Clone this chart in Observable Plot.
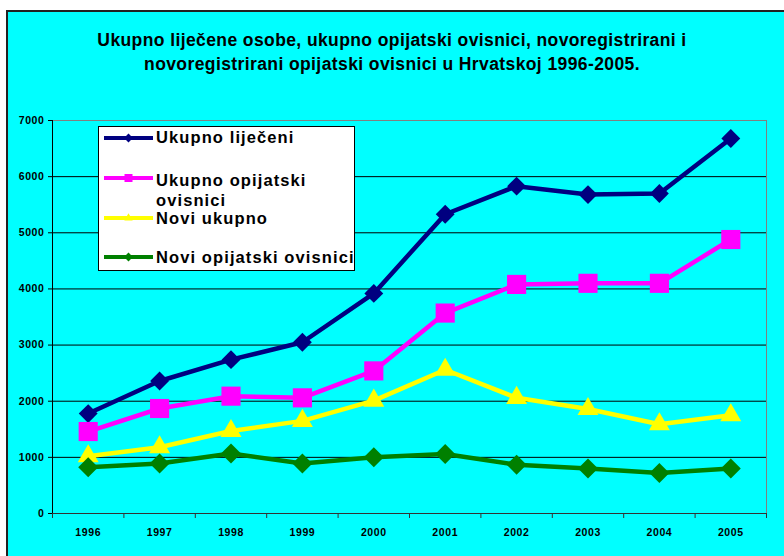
<!DOCTYPE html>
<html>
<head>
<meta charset="utf-8">
<script src="https://cdn.jsdelivr.net/npm/d3@7"></script>
<script src="https://cdn.jsdelivr.net/npm/@observablehq/plot@0.6"></script>
<style>
  html, body { margin: 0; padding: 0; background: #fff; }
  #wrap { position: relative; width: 784px; height: 556px; overflow: hidden; font-family: "Liberation Sans", Arial, sans-serif; }
  #bg { position: absolute; left: 6px; top: 10px; width: 800px; height: 560px; background: #00FFFF; border-left: 2px solid #222; border-top: 2px solid #222; }
  #title { position: absolute; left: 0; top: 28px; width: 784px; text-align: center; font-weight: bold; font-size: 17.5px; letter-spacing: 0.4px; line-height: 24px; color: #000; }
  #chart { position: absolute; left: 0; top: 0; }
  #legend { position: absolute; left: 98px; top: 126px; width: 257px; height: 145px; background: #fff; border: 1px solid #000; box-sizing: border-box; }
  .lt { position: absolute; left: 156px; font-weight: bold; font-size: 16.5px; letter-spacing: 1.1px; line-height: 20px; color: #000; white-space: nowrap; }
  .ls { position: absolute; left: 103px; }
</style>
</head>
<body>
<div id="wrap">
  <div id="bg"></div>
  <div id="title">Ukupno liječene osobe, ukupno opijatski ovisnici, novoregistrirani i<br>novoregistrirani opijatski ovisnici u Hrvatskoj 1996-2005.</div>
  <div id="chart"></div>
  <div id="legend"></div>
  <div id="legendItems"></div>
</div>
<script>
const years = [1996, 1997, 1998, 1999, 2000, 2001, 2002, 2003, 2004, 2005];
const ukupnoLijeceni = [1780, 2360, 2740, 3050, 3920, 5330, 5830, 5680, 5700, 6680];
const ukupnoOpijatski = [1460, 1870, 2090, 2060, 2540, 3570, 4080, 4100, 4100, 4880];
const noviUkupno = [1020, 1180, 1470, 1650, 2010, 2560, 2060, 1860, 1590, 1750];
const noviOpijatski = [825, 890, 1070, 890, 1000, 1060, 870, 800, 720, 800];
const seriesNames = ["Ukupno liječeni", "Ukupno opijatski ovisnici", "Novi ukupno", "Novi opijatski ovisnici"];
const seriesColors = ["#000080", "#FF00FF", "#FFFF00", "#008000"];
const seriesSymbols = ["diamond2", "square", "triangle2", "diamond2"];
const seriesR = [8.5, 10.8, 10, 9];
const yTicks = [0, 1000, 2000, 3000, 4000, 5000, 6000, 7000];

const seriesValues = [ukupnoLijeceni, ukupnoOpijatski, noviUkupno, noviOpijatski];
const data = seriesNames.map((name, i) => years.map((year, j) => ({series: name, year, value: seriesValues[i][j]})));
const xDomain = [years[0] - 0.5, years[years.length - 1] + 0.5];
const boundaries = years.map(y => y - 0.5).concat([years[years.length - 1] + 0.5]);
const yMax = yTicks[yTicks.length - 1];

const marks = [
  Plot.ruleY(yTicks.filter(v => v > 0 && v < yMax), {stroke: "#000", strokeWidth: 1}),
  Plot.frame({stroke: "#808080"}),
  Plot.ruleY([0], {stroke: "#333"}),
  Plot.ruleX([xDomain[0]], {stroke: "#000"}),
  Plot.axisY(yTicks, {tickSize: 4, tickPadding: 4, stroke: "#000", fill: "#000", label: null, tickFormat: d => String(d)}),
  Plot.axisX(years, {tickSize: 0, tickPadding: 15, tickFormat: d => String(d), fill: "#000", label: null}),
  Plot.axisX(boundaries, {tickSize: 5, tickFormat: () => "", stroke: "#333", label: null})
];
data.forEach((rows, i) => {
  marks.push(Plot.lineY(rows, {x: "year", y: "value", stroke: seriesColors[i], strokeWidth: 4.5}));
  marks.push(Plot.dot(rows, {x: "year", y: "value", symbol: () => seriesSymbols[i], r: seriesR[i], fill: seriesColors[i], stroke: "none"}));
});

const chart = Plot.plot({
  width: 784,
  height: 556,
  marginLeft: 52,
  marginRight: 18,
  marginTop: 120,
  marginBottom: 43,
  x: {type: "linear", domain: xDomain, axis: null},
  y: {domain: [0, yMax], axis: null},
  symbol: {type: "identity"},
  style: {background: "transparent", color: "#000", fontFamily: "'Liberation Sans', Arial, sans-serif", fontSize: "10.5px", fontWeight: "bold", letterSpacing: "0.6px", overflow: "visible"},
  marks
});
document.getElementById("chart").appendChild(chart);

// Legend
const rowCenters = [[138, [137]], [178, [180, 200]], [218, [218]], [257, [257]]];
const legendLabels = [["Ukupno liječeni"], ["Ukupno opijatski", "ovisnici"], ["Novi ukupno"], ["Novi opijatski ovisnici"]];
const li = document.getElementById("legendItems");
const symPath = (sym, size) => d3.symbol(
  sym === "square" ? d3.symbolSquare : sym === "triangle2" ? d3.symbolTriangle2 : d3.symbolDiamond2, size)();
rowCenters.forEach(([sy, tys], i) => {
  const svg = document.createElementNS("http://www.w3.org/2000/svg", "svg");
  svg.setAttribute("width", 52); svg.setAttribute("height", 16);
  svg.setAttribute("class", "ls");
  svg.style.top = (sy - 8) + "px";
  svg.innerHTML = `<line x1="1" x2="50" y1="8" y2="8" stroke="${seriesColors[i]}" stroke-width="4"/>` +
    `<path transform="translate(25.5,8)" d="${symPath(seriesSymbols[i], i === 1 ? 64 : 50)}" fill="${seriesColors[i]}"/>`;
  li.appendChild(svg);
  tys.forEach((ty, k) => {
    const d = document.createElement("div");
    d.className = "lt";
    d.style.top = (ty - 10) + "px";
    d.textContent = legendLabels[i][k];
    li.appendChild(d);
  });
});
</script>
</body>
</html>
